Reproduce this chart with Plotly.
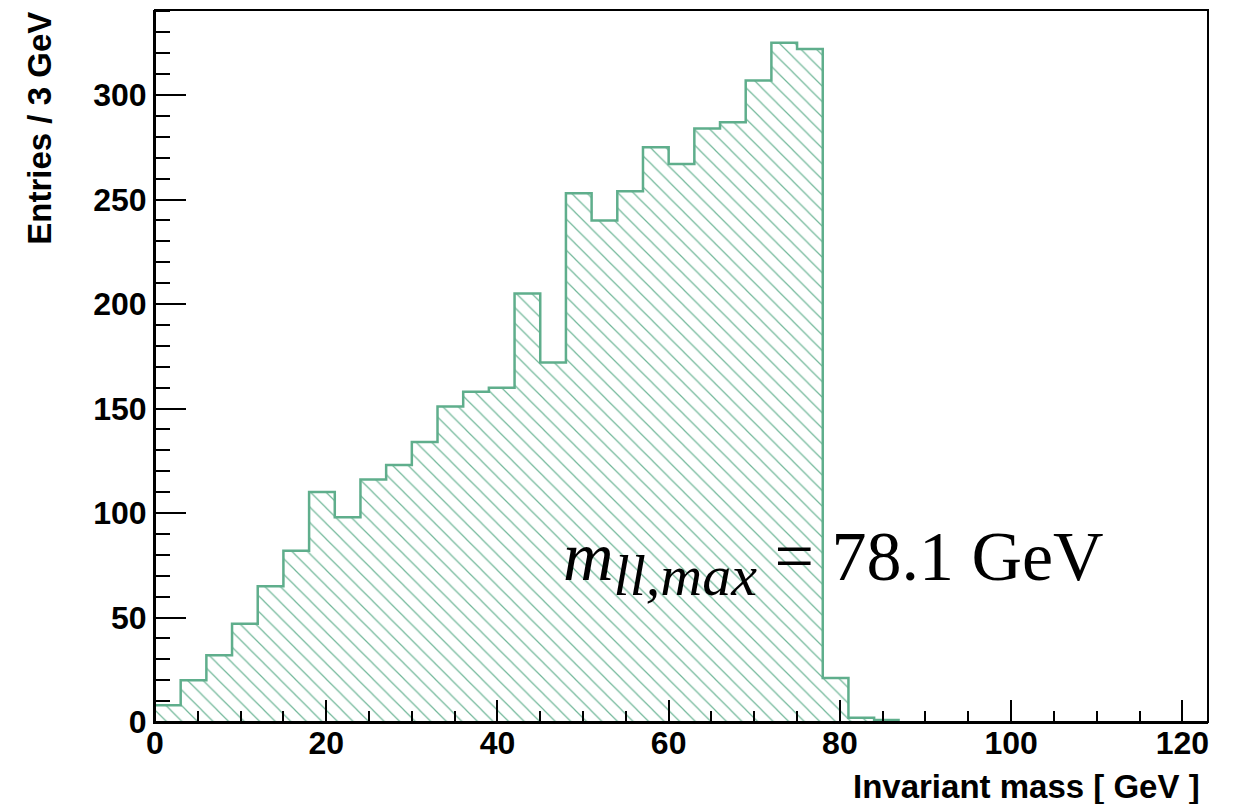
import plotly.graph_objects as go

bin_width = 3
bin_low_edges = [i * 3 for i in range(41)]
counts = [8, 20, 32, 47, 65, 82, 110, 98, 116, 123, 134, 151, 158, 160, 205, 172,
          253, 240, 254, 275, 267, 284, 287, 307, 325, 322, 21, 2, 1] + [0] * 12

x_tick_vals = [0, 20, 40, 60, 80, 100, 120]
y_tick_vals = [0, 50, 100, 150, 200, 250, 300]

line_color = "#5fae8c"
hatch_color = "#72b89a"

centers = [e + bin_width / 2 for e in bin_low_edges]
last = max(i for i, c in enumerate(counts) if c > 0)
step_x = bin_low_edges[:last + 1] + [bin_low_edges[last] + bin_width]
step_y = counts[:last + 1] + [counts[last]]

fig = go.Figure()
fig.add_trace(go.Bar(
    x=centers, y=counts, width=bin_width,
    marker=dict(color="white", line=dict(width=0),
                pattern=dict(shape="\\", fgcolor=hatch_color, size=11, solidity=0.11,
                             fillmode="replace")),
    showlegend=False, hoverinfo="skip"))
fig.add_trace(go.Scatter(
    x=step_x, y=step_y, mode="lines", line=dict(shape="hv", color=line_color, width=2.5),
    showlegend=False))

tick_font = dict(family="Liberation Sans, Arial, sans-serif", size=32, color="black", weight="bold")
fig.update_layout(
    width=1234, height=804,
    margin=dict(l=155, r=26, t=10, b=82),
    paper_bgcolor="white", plot_bgcolor="white",
    bargap=0,
    font=dict(family="Liberation Sans, Arial, sans-serif", color="black"),
    xaxis=dict(range=[0, 123], tickvals=x_tick_vals, ticks="inside", ticklen=22, tickwidth=2,
               tickcolor="black", showline=True, linecolor="black", linewidth=2, mirror=False,
               showgrid=False, zeroline=False, tickfont=tick_font, layer="above traces",
               ticklabelstandoff=-8,
               minor=dict(dtick=5, ticks="inside", ticklen=11, tickwidth=2, tickcolor="black",
                          showgrid=False)),
    yaxis=dict(range=[0, 340.7], tickvals=y_tick_vals, ticks="inside", ticklen=31, tickwidth=2,
               tickcolor="black", showline=True, linecolor="black", linewidth=2, mirror=False,
               showgrid=False, zeroline=False, tickfont=tick_font, layer="above traces",
               minor=dict(dtick=10, ticks="inside", ticklen=15, tickwidth=2, tickcolor="black",
                          showgrid=False)),
    shapes=[dict(type="rect", xref="paper", yref="paper", x0=0, y0=0, x1=1, y1=1,
                 line=dict(color="black", width=2), fillcolor="rgba(0,0,0,0)", layer="above")],
    annotations=[
        dict(text="<b>Invariant mass [ GeV ]</b>", xref="paper", yref="paper", x=0.994, y=-0.09,
             xanchor="right", yanchor="middle", showarrow=False,
             font=dict(family="Liberation Sans, Arial, sans-serif", size=33, color="black")),
        dict(text="<b>Entries / 3 GeV</b>", xref="paper", yref="paper", x=-0.11, y=1.0,
             xanchor="center", yanchor="top", textangle=-90, showarrow=False,
             font=dict(family="Liberation Sans, Arial, sans-serif", size=33, color="black")),
        dict(text="<i>m</i><sub><span style='font-size:58px'><i>ll,max</i></span></sub> = 78.1 GeV",
             xref="x", yref="y",
             x=79.2, y=76, xanchor="center", yanchor="middle", showarrow=False,
             font=dict(family="Liberation Serif, Times New Roman, serif", size=70, color="black")),
    ],
)

fig.write_html("out.html")
